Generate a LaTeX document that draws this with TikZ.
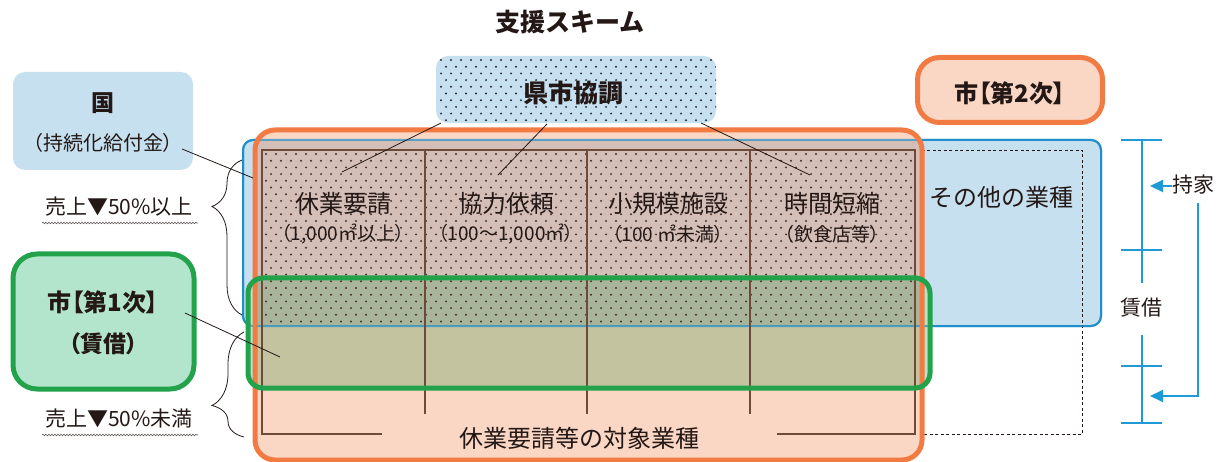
\documentclass[tikz,border=0pt]{standalone}
\usepackage{fontspec}
\setmainfont{Noto Sans CJK JP}
\newfontfamily\jpp[RawFeature=+palt]{Noto Sans CJK JP}
\usetikzlibrary{decorations.pathreplacing,decorations.pathmorphing,arrows.meta}
\definecolor{lblue}{HTML}{C6E0F0}
\definecolor{bblue}{HTML}{1E8FCB}
\definecolor{sblue}{HTML}{1E9AD6}
\definecolor{peach}{HTML}{FAD6C4}
\definecolor{ored}{HTML}{F27B43}
\definecolor{lgreen}{HTML}{B3E4CC}
\definecolor{ggreen}{HTML}{22A34B}
\definecolor{brownish}{HTML}{D4BEB8}
\definecolor{olive}{HTML}{C3C3A0}
\definecolor{graygreen}{HTML}{A9B59B}
\definecolor{bline}{HTML}{6E4A3A}
\definecolor{dotc}{HTML}{4A3028}
\definecolor{dotk}{HTML}{2A2E3A}
\definecolor{txt}{HTML}{231815}
\newcommand\dotfield[5]{%
  \foreach \j in {0,...,#4}{\pgfmathsetmacro\dotoff{mod(\j,2)*5}
    \foreach \i in {0,...,#3}{\fill[#5] ({#1+\i*10+\dotoff},{#2+\j*6.7}) circle[radius=1.1pt];}}}
\begin{document}
\begin{tikzpicture}[x=1pt,y=-1pt,
  every node/.style={text=txt},
  fs/.style={font=\fontsize{#1}{#1}\selectfont},
  fb/.style={font=\fontsize{#1}{#1}\selectfont\bfseries},
  fp/.style={font=\jpp\fontsize{#1}{#1}\selectfont},
  fpb/.style={font=\jpp\fontsize{#1}{#1}\selectfont\bfseries},
  conn/.style={draw=txt,line width=0.8pt},
  colline/.style={draw=bline,line width=1.1pt},
  scale line/.style={draw=sblue,line width=2pt},
  arr/.style={draw=sblue,line width=2pt,-{Triangle[length=13pt,width=12pt]}},
  boxnode/.style={anchor=north west,inner sep=0pt,outer sep=0pt}]
\useasboundingbox (0,0) rectangle (1223,462);

% title
\node[fb=25] (title) at (570,22) {支援スキーム};

% blue (sales down >=50%) box
\node[boxnode,draw=bblue,line width=2pt,fill=lblue,rounded corners=10pt,
      minimum width=858pt,minimum height=186pt] (bluebox) at (243,140) {};
% dashed whole-industry rectangle
\draw[dash pattern=on 3pt off 2.5pt,line width=0.9pt,txt] (262,150) rectangle (1082,434);
% orange box fill
\node[boxnode,fill=peach,rounded corners=20pt,
      minimum width=667pt,minimum height=330pt] (obox) at (255,130) {};
\begin{scope}
  \clip[rounded corners=20pt] (255,130) rectangle (922,460);
  \fill[brownish] (243,140) rectangle (1101,326);
\end{scope}
% green box fill
\fill[lgreen,rounded corners=15pt] (248,278) rectangle (930,388);
\begin{scope}
  \clip[rounded corners=15pt] (248,278) rectangle (930,388);
  \clip[rounded corners=20pt] (255,130) rectangle (922,460);
  \fill[olive] (240,270) rectangle (940,400);
  \fill[graygreen] (240,270) rectangle (940,326);
\end{scope}
% dots
\begin{scope}
  \clip (262,150) rectangle (915,326);
  \dotfield{266}{154}{65}{26}{dotc}
\end{scope}
% blue border seen through
\draw[bblue,opacity=0.7,line width=2pt,rounded corners=10pt] (243,140) rectangle (1101,326);
% inner column lines
\draw[colline] (382,434) -- (262,434) -- (262,150) -- (915,150) -- (915,434) -- (777,434);
\foreach \cx in {425,587,750}{\draw[colline] (\cx,150) -- (\cx,414);}
% orange and green borders
\draw[ored,line width=5pt,rounded corners=20pt] (255,130) rectangle (922,460);
\draw[ggreen,line width=5pt,rounded corners=15pt] (248,278) rectangle (930,388);

% column texts
\node[fs=24] (c1a) at (343,203) {休業要請};
\node[fp=19] (c1b) at (343,234) {（1,000㎡以上）};
\node[fs=24] (c2a) at (506,203) {協力依頼};
\node[fp=19] (c2b) at (506,234) {（100～1,000㎡）};
\node[fs=24] (c3a) at (668,203) {小規模施設};
\node[fp=19] (c3b) at (668,234) {（100 ㎡未満）};
\node[fs=24] (c4a) at (832,203) {時間短縮};
\node[fp=19] (c4b) at (832,234) {（飲食店等）};
\node[fs=24] (other) at (1001,197) {その他の業種};
\node[fs=24] (target) at (579,438) {休業要請等の対象業種};

% 県市協調 box
\node[boxnode,fill=lblue,rounded corners=12pt,minimum width=280pt,minimum height=67pt] (kenshi) at (436,56) {};
\begin{scope}
  \clip[rounded corners=12pt] (436,56) rectangle (716,123);
  \dotfield{441}{60}{28}{9}{dotk}
\end{scope}
\node[fb=25] (kenshit) at (573,93) {県市協調};

% 国 box
\node[boxnode,fill=lblue,rounded corners=12pt,minimum width=180pt,minimum height=98pt] (kuni) at (13,72) {};
\node[fb=23] (kunit) at (103,103) {国};
\node[fp=20] (kunis) at (103,143) {（持続化給付金）};

% 市【第1次】 box
\node[boxnode,draw=ggreen,line width=5pt,fill=lgreen,rounded corners=24pt,minimum width=181pt,minimum height=135pt] (shi1) at (13,254) {};
\node[fpb=24] (shi1t) at (103,302) {市【第1次】};
\node[fpb=23] (shi1s) at (103,344) {（賃借）};

% 市【第2次】 box
\node[boxnode,draw=ored,line width=5pt,fill=peach,rounded corners=22pt,minimum width=185pt,minimum height=65pt] (shi2) at (917.5,57.5) {};
\node[fpb=24] (shi2t) at (1010,93) {市【第2次】};

% sales labels, braces
\node[fs=21] (up50) at (119,207) {売上▼50\%以上};
\draw[txt!70,line width=0.6pt,decorate,decoration={snake,amplitude=0.8pt,segment length=3pt}] (42,223) -- (198,223);
\node[fs=21] (dn50) at (119,419) {売上▼50\%未満};
\draw[txt!70,line width=0.6pt,decorate,decoration={snake,amplitude=0.8pt,segment length=3pt}] (42,435) -- (198,435);
\coordinate (br1a) at (242,160);
\coordinate (br1b) at (242,315);
\coordinate (br2a) at (244,332);
\coordinate (br2b) at (244,437);
\draw[txt,line width=0.8pt,decorate,decoration={brace,mirror,amplitude=30pt,aspect=0.3}] (br1a) -- (br1b);
\draw[txt,line width=0.8pt,decorate,decoration={brace,mirror,amplitude=32pt,aspect=0.7}] (br2a) -- (br2b);

% connectors
\coordinate (k1) at (182,149); \coordinate (k2) at (253,178);
\draw[conn] (k1) -- (k2);
\coordinate (s1) at (185,313); \coordinate (s2) at (280,357);
\draw[conn] (s1) -- (s2);
\coordinate (ka) at (441,123); \coordinate (kb) at (547,124); \coordinate (kc) at (701,123);
\coordinate (t1) at (342,172); \coordinate (t2) at (498,175); \coordinate (t3) at (810,175);
\draw[conn] (ka) -- (t1);
\draw[conn] (kb) -- (t2);
\draw[conn] (kc) -- (t3);

% right scale
\draw[scale line] (1142,140) -- (1142,283);
\draw[scale line] (1142,335) -- (1142,423);
\foreach \ty in {140,250,366,423}{\draw[scale line] (1121,\ty) -- (1162,\ty);}
\node[fs=21] (chin) at (1141,308) {賃借};
\node[fs=21] (mochi) at (1193,185) {持家};
\coordinate (m1) at (1172,186); \coordinate (m2) at (1150,186);
\draw[arr] (m1) -- (m2);
\coordinate (d1) at (1198,203); \coordinate (d2) at (1150,396);
\draw[arr] (d1) |- (d2);
\end{tikzpicture}
\end{document}
